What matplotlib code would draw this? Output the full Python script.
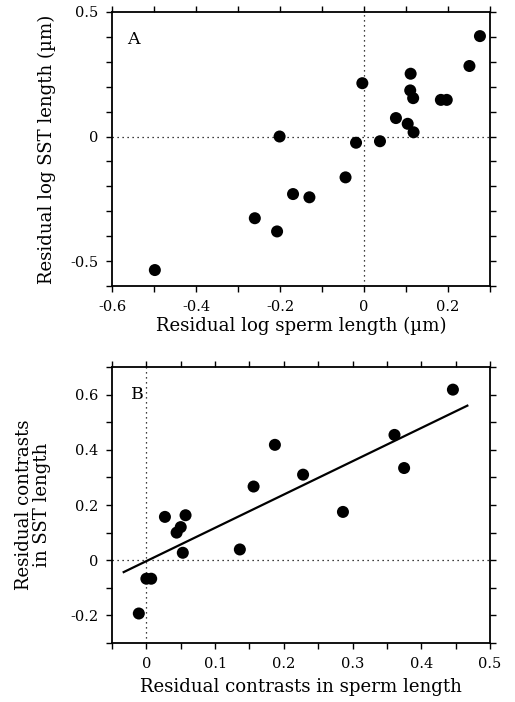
import matplotlib
matplotlib.use("Agg")
import matplotlib.pyplot as plt
from matplotlib.ticker import MultipleLocator

plt.rcParams['font.family'] = ['DejaVu Serif']

# Panel A data
a_x = [0.276, 0.251, 0.111, -0.004, 0.110, 0.117, 0.183, 0.197, 0.076, 0.104,
       0.118, -0.201, -0.019, 0.038, -0.044, -0.169, -0.130, -0.260, -0.207, -0.498]
a_y = [0.403, 0.283, 0.252, 0.214, 0.185, 0.154, 0.147, 0.147, 0.074, 0.051,
       0.017, 0.000, -0.025, -0.019, -0.164, -0.231, -0.244, -0.328, -0.381, -0.536]

# Panel B data
b_x = [0.446, 0.361, 0.375, 0.187, 0.228, 0.156, 0.286, 0.027, 0.057, 0.050,
       0.044, 0.053, 0.136, 0.000, 0.007, -0.011]
b_y = [0.618, 0.454, 0.334, 0.418, 0.310, 0.267, 0.175, 0.157, 0.163, 0.120,
       0.100, 0.027, 0.039, -0.067, -0.067, -0.193]
line_x = [-0.033, 0.467]
line_y = [-0.043, 0.560]

a_xticks = [-0.6, -0.4, -0.2, 0, 0.2]
a_xticklabels = ['-0.6', '-0.4', '-0.2', '0', '0.2']
a_yticks = [-0.5, 0, 0.5]
a_yticklabels = ['-0.5', '0', '0.5']
b_xticks = [0, 0.1, 0.2, 0.3, 0.4, 0.5]
b_xticklabels = ['0', '0.1', '0.2', '0.3', '0.4', '0.5']
b_yticks = [-0.2, 0, 0.2, 0.4, 0.6]
b_yticklabels = ['-0.2', '0', '0.2', '0.4', '0.6']

fig = plt.figure(figsize=(5.15, 7.02), dpi=100)
axA = fig.add_axes([0.2175, 0.5926, 0.734, 0.3904])
axB = fig.add_axes([0.2175, 0.0840, 0.734, 0.3932])

def style(ax):
    for s in ax.spines.values():
        s.set_linewidth(1.3)
    ax.tick_params(which='both', direction='out', top=True, right=True,
                   labeltop=False, labelright=False, width=1.0, labelsize=10.5)
    ax.tick_params(which='major', length=4, pad=6)
    ax.tick_params(which='minor', length=4)

dot = (0, (1, 3))

# Panel A
axA.axhline(0, color='black', linestyle=dot, linewidth=0.9)
axA.axvline(0, color='black', linestyle=dot, linewidth=0.9)
axA.scatter(a_x, a_y, s=75, color='black', zorder=3, edgecolors='none')
axA.set_xlim(-0.6, 0.3)
axA.set_ylim(-0.6, 0.5)
axA.set_xticks(a_xticks)
axA.set_xticklabels(a_xticklabels)
axA.set_yticks(a_yticks)
axA.set_yticklabels(a_yticklabels)
axA.xaxis.set_minor_locator(MultipleLocator(0.1))
axA.yaxis.set_minor_locator(MultipleLocator(0.1))
style(axA)
axA.set_xlabel('Residual log sperm length (\u00b5m)', fontsize=13.1, labelpad=2)
axA.set_ylabel('Residual log SST length (\u00b5m)', fontsize=13.1, labelpad=10)
axA.text(0.04, 0.9, 'A', transform=axA.transAxes, fontsize=12.5, va='center')

# Panel B
axB.axhline(0, color='black', linestyle=dot, linewidth=0.9)
axB.axvline(0, color='black', linestyle=dot, linewidth=0.9)
axB.plot(line_x, line_y, color='black', linewidth=1.6)
axB.scatter(b_x, b_y, s=75, color='black', zorder=3, edgecolors='none')
axB.set_xlim(-0.05, 0.5)
axB.set_ylim(-0.3, 0.7)
axB.set_xticks(b_xticks)
axB.set_xticklabels(b_xticklabels)
axB.set_yticks(b_yticks)
axB.set_yticklabels(b_yticklabels)
axB.xaxis.set_minor_locator(MultipleLocator(0.05))
axB.yaxis.set_minor_locator(MultipleLocator(0.1))
style(axB)
axB.set_xlabel('Residual contrasts in sperm length', fontsize=13.1, labelpad=5)
axB.set_ylabel('Residual contrasts\nin SST length', fontsize=13.1, labelpad=14,
               linespacing=1.0)
axB.text(0.05, 0.9, 'B', transform=axB.transAxes, fontsize=12.5, va='center')

fig.savefig('out.png', dpi=100)
